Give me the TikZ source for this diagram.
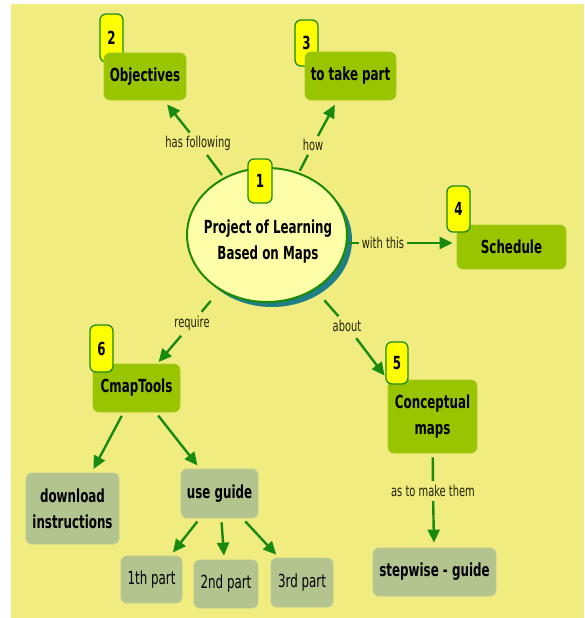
\documentclass[tikz,border=0pt]{standalone}
\usepackage{fontspec}
\setmainfont{DejaVu Sans}[FakeStretch=0.66]
\usetikzlibrary{arrows.meta,shapes.geometric}
\definecolor{bgyel}{HTML}{F1EC80}
\definecolor{cgreen}{HTML}{99C400}
\definecolor{cgreenb}{HTML}{A6CC22}
\definecolor{cgray}{HTML}{B3C48F}
\definecolor{cgrayb}{HTML}{BACB98}
\definecolor{byellow}{HTML}{FFFF00}
\definecolor{bgreen}{HTML}{1C8C1C}
\definecolor{ellfill}{HTML}{FFFFAA}
\definecolor{ellborder}{HTML}{1E8A00}
\definecolor{ellshadow}{HTML}{207E86}
\definecolor{agreen}{HTML}{188A10}
\definecolor{lbltext}{HTML}{222200}
\begin{document}
\begin{tikzpicture}[x=1pt,y=-1pt,
  concept/.style={rectangle, rounded corners=6pt, fill=cgreen, draw=cgreenb, line width=0.8pt,
    font=\fontsize{18}{26}\selectfont\bfseries, align=center, inner sep=0pt, text=black},
  subbox/.style={rectangle, rounded corners=6pt, fill=cgray, draw=cgrayb, line width=0.8pt,
    font=\fontsize{18}{26}\selectfont\bfseries, align=center, inner sep=0pt, text=black},
  partbox/.style={subbox, font=\fontsize{18}{26}\selectfont},
  badge/.style={rectangle, rounded corners=6pt, fill=byellow, draw=bgreen, line width=1.3pt,
    font=\fontsize{18}{20}\selectfont\bfseries, inner sep=0pt, minimum width=23pt, minimum height=46pt},
  lbl/.style={font=\fontsize{15}{17}\selectfont, text=lbltext, inner sep=3pt},
  ln/.style={draw=agreen, line width=2.4pt},
  arr/.style={draw=agreen, line width=2.4pt, -{Triangle[length=13pt,width=12pt]}}
]
\useasboundingbox (0,0) rectangle (584,618);
\fill[white] (0,0) rectangle (584,618);
\fill[bgyel] (11,4) rectangle (584,618);

% central ellipse
\fill[ellshadow] (272,240) ellipse [x radius=80, y radius=67];
\node[ellipse, draw=ellborder, fill=ellfill, line width=2pt, minimum width=160pt, minimum height=134pt, inner sep=0pt] (ell) at (267,235) {};
\node[font=\fontsize{18}{26}\selectfont\bfseries, align=center, inner sep=0pt] (elltext) at (268,242) {Project of Learning\\Based on Maps};
\node[badge, minimum width=24pt, minimum height=44pt] (b1) at (260,181) {1};

% top concepts
\node[badge, minimum height=48pt] (b2) at (111.5,38) {2};
\node[badge] (b3) at (306.5,43) {3};
\node[concept, minimum width=82pt, minimum height=47pt] (obj) at (145,76.5) {Objectives};
\node[concept, minimum width=91pt, minimum height=48pt] (take) at (350.5,76) {to take part};

\node[concept, minimum width=109pt, minimum height=44pt] (sch) at (511.5,247) {Schedule};
\node[badge] (b4) at (458.5,209) {4};

\node[concept, minimum width=87pt, minimum height=48pt] (cmap) at (136.5,388) {CmapTools};
\node[badge, minimum height=47pt] (b6) at (101.5,348.5) {6};

\node[concept, minimum width=89pt, minimum height=73pt] (con) at (432.5,416.5) {Conceptual\\maps};
\node[badge, minimum width=22pt, minimum height=42pt] (b5) at (397,363) {5};

% lower boxes
\node[subbox, minimum width=93pt, minimum height=71pt] (dl) at (72.5,508.5) {download\\instructions};
\node[subbox, minimum width=77pt, minimum height=49pt] (guide) at (219.5,493.5) {use guide};
\node[partbox, minimum width=61pt, minimum height=47pt] (p1) at (151.5,579.5) {1th part};
\node[partbox, minimum width=64pt, minimum height=48pt] (p2) at (226,584) {2nd part};
\node[partbox, minimum width=62pt, minimum height=49pt] (p3) at (302,582.5) {3rd part};
\node[subbox, minimum width=123pt, minimum height=48pt] (step) at (434.5,572) {stepwise - guide};

% linking labels
\node[lbl] (l1) at (198,143) {has following};
\node[lbl] (l2) at (313,145) {how};
\node[lbl] (l3) at (383,243) {with this};
\node[lbl] (l4) at (192,323) {require};
\node[lbl] (l5) at (347,326) {about};
\node[lbl] (l6) at (433,491) {as to make them};

% connectors
\draw[ln, shorten <=3pt, shorten >=2pt] (ell) -- (l1);
\draw[arr, shorten >=5pt] (l1) -- (obj);
\draw[ln, shorten <=2pt, shorten >=1pt] (ell) -- (l2);
\draw[arr, shorten >=5pt] (l2) -- (take);
\draw[ln] (ell.east |- l3) -- (l3);
\draw[arr, shorten >=4pt] (l3) -- (l3 -| sch.west);
\draw[ln, shorten <=14pt, shorten >=1pt] (ell) -- (l4);
\draw[arr, shorten <=3pt, shorten >=2pt] (l4) -- (cmap);
\draw[ln, shorten <=14pt, shorten >=1pt] (ell) -- (l5);
\draw[arr, shorten <=4pt, shorten >=5pt] (l5) -- (con.north west);
\draw[ln, shorten <=4pt, shorten >=1pt] (con) -- (l6);
\draw[arr, shorten <=1pt, shorten >=5pt] (l6) -- (step);
\draw[arr, shorten <=4pt, shorten >=4pt] (cmap) -- (dl);
\draw[arr, shorten <=4pt, shorten >=4pt] (cmap) -- (guide);
\draw[arr, shorten <=4pt, shorten >=4pt] (guide) -- (p1);
\draw[arr, shorten <=4pt, shorten >=4pt] (guide) -- (p2);
\draw[arr, shorten <=4pt, shorten >=4pt] (guide) -- (p3);
\end{tikzpicture}
\end{document}
